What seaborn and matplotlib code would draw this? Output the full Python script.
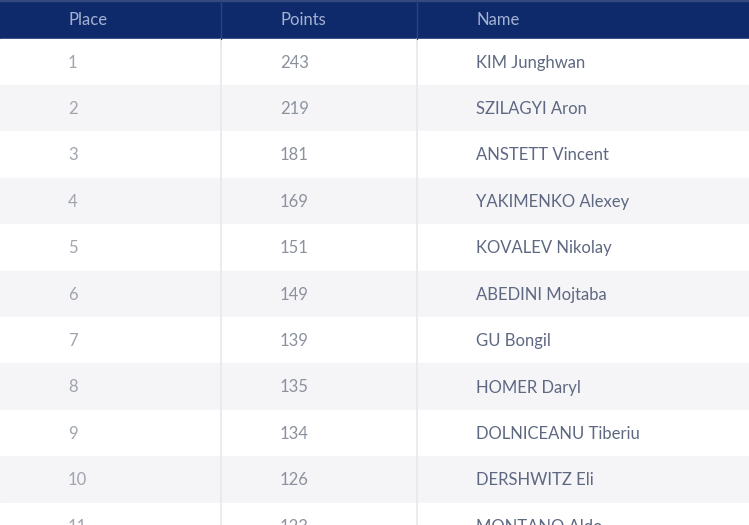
import matplotlib
matplotlib.use("Agg")
import matplotlib.pyplot as plt
import seaborn as sns

places = [1, 2, 3, 4, 5, 6, 7, 8, 9, 10, 11]
points = [243, 219, 181, 169, 151, 149, 139, 135, 134, 126, 123]
names = ["KIM Junghwan", "SZILAGYI Aron", "ANSTETT Vincent", "YAKIMENKO Alexey",
         "KOVALEV Nikolay", "ABEDINI Mojtaba", "GU Bongil", "HOMER Daryl",
         "DOLNICEANU Tiberiu", "DERSHWITZ Eli", "MONTANO Aldo"]
headers = ["Place", "Points", "Name"]

sns.set_theme(style="white")
plt.rcParams['font.family'] = ['Lato', 'DejaVu Sans']

W, H = 749, 525
fig = plt.figure(figsize=(W / 100, H / 100), dpi=100)
ax = fig.add_axes([0, 0, 1, 1])
ax.set_xlim(0, W)
ax.set_ylim(H, 0)
ax.axis('off')

header_h = 38.5
row_h = 46.4
col_x = [68, 280, 476]
div_x = [221, 417]

# header
ax.axhspan(0, header_h, color='#0f2a6b', zorder=1)
ax.axhspan(0, 1.0, color='#34497e', zorder=2)
for x, h in zip(col_x, headers):
    ax.text(x, header_h / 2 + 1, h, ha='left', va='center', fontsize=12,
            color='#a3b1d3', zorder=3)

# rows
for i, (p, pt, n) in enumerate(zip(places, points, names)):
    top = header_h + i * row_h
    color = '#ffffff' if i % 2 == 0 else '#f5f5f8'
    ax.axhspan(top, top + row_h, color=color, zorder=1)
    yc = top + row_h / 2 + 1
    ax.text(col_x[0], yc, str(p), ha='left', va='center', fontsize=12,
            color='#a0a4ad', zorder=3)
    ax.text(col_x[1], yc, str(pt), ha='left', va='center', fontsize=12,
            color='#8b919d', zorder=3)
    ax.text(col_x[2], yc, n, ha='left', va='center', fontsize=12,
            color='#5e6881', zorder=3)

for x in div_x:
    ax.plot([x, x], [header_h, H], color='#e6e8ef', lw=1.2, zorder=2)
    ax.plot([x, x], [1.0, header_h], color='#2a4280', lw=1.0, zorder=2)

fig.savefig('out.png', dpi=100)
